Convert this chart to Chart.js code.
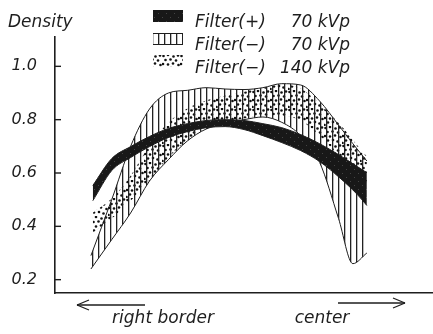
<!DOCTYPE html>
<html>
<head>
<meta charset="utf-8">
<script src="https://cdn.jsdelivr.net/npm/chart.js@4.4.1/dist/chart.umd.min.js"></script>
<style>
  body { margin: 0; background: #fff; }
</style>
</head>
<body>
<canvas id="density" width="433" height="334"></canvas>
<script>
// position across the image (0 = axis, 100 = right edge), density values
var bandPos = [10, 15, 20, 25, 30, 35, 40, 45, 50, 55, 60, 65, 70, 75, 80, 82.5];
var blackHi = [0.553, 0.654, 0.699, 0.737, 0.767, 0.785, 0.797, 0.800, 0.797, 0.785, 0.770, 0.744, 0.710, 0.669, 0.624, 0.601];
var blackLo = [0.496, 0.609, 0.658, 0.699, 0.733, 0.755, 0.770, 0.774, 0.763, 0.740, 0.714, 0.684, 0.643, 0.586, 0.519, 0.478];
var dotHi = [0.451, 0.504, 0.590, 0.703, 0.789, 0.842, 0.872, 0.890, 0.905, 0.920, 0.932, 0.917, 0.860, 0.789, 0.703, 0.662];
var dotLo = [0.376, 0.429, 0.496, 0.571, 0.658, 0.722, 0.767, 0.789, 0.804, 0.815, 0.815, 0.797, 0.740, 0.665, 0.590, 0.560];
var hatchPos = [9.5, 15, 20, 25, 30, 35, 40, 45, 50, 55, 60, 65, 70, 75, 78.8, 82.5];
var hatchHi = [0.29, 0.50, 0.70, 0.84, 0.90, 0.91, 0.92, 0.915, 0.913, 0.92, 0.935, 0.93, 0.87, 0.78, 0.71, 0.645];
var hatchLo = [0.24, 0.35, 0.45, 0.57, 0.65, 0.72, 0.765, 0.785, 0.80, 0.81, 0.79, 0.74, 0.64, 0.43, 0.26, 0.30];
var tickVals = [0.2, 0.4, 0.6, 0.8, 1.0];
var legendRows = [
    ["Filter(+)", "70 kVp"],
    ["Filter(\u2212)", "70 kVp"],
    ["Filter(\u2212)", "140 kVp"]
];

var ink = '#1e1e1e';
var font = '"DejaVu Sans", sans-serif';

function pts(xs, ys)
{
    return xs.map(function (x, i) { return { x: x, y: ys[i] }; });
}

// fill patterns
function tile(w, h, paint)
{
    var c = document.createElement('canvas');
    c.width = w; c.height = h;
    var g = c.getContext('2d');
    paint(g);
    return g.createPattern(c, 'repeat');
}

var blackPat = tile(8, 8, function (g)
{
    g.fillStyle = '#181818';
    g.fillRect(0, 0, 8, 8);
    g.fillStyle = '#444';
    g.fillRect(2, 1, 1, 1);
    g.fillRect(6, 5, 1, 1);
});

var hatchPat = tile(6, 6, function (g)
{
    g.fillStyle = '#222';
    g.fillRect(2, 0, 1.3, 6);
});

// scattered stipple, hand placed in an 18px tile
var dotPat = tile(18, 18, function (g)
{
    g.fillStyle = '#111';
    [[1.5, 2], [6, 1], [11.5, 2.5], [16, 1.5], [3.5, 6], [8.5, 5.5], [14, 6.5],
     [1, 10], [6, 10.5], [11, 9.5], [16.5, 11], [4, 14.5], [9, 14], [13.5, 15.5], [0.5, 17]].forEach(function (p)
    {
        g.beginPath();
        g.arc(p[0], p[1], 1.3, 0, Math.PI * 2);
        g.fill();
    });
});

function line(c, x1, y1, x2, y2)
{
    c.beginPath();
    c.moveTo(x1, y1);
    c.lineTo(x2, y2);
    c.stroke();
}

var decorations =
{
    id: 'decorations',
    afterDraw: function (chart)
    {
        var c = chart.ctx;
        var ys = chart.scales.y;
        c.save();
        c.strokeStyle = ink;
        c.fillStyle = ink;
        c.lineWidth = 1.4;

        // inward ticks
        tickVals.forEach(function (v)
        {
            var py = ys.getPixelForValue(v);
            line(c, ys.right, py, ys.right + 6, py);
        });

        // axis title
        c.font = 'italic 17px ' + font;
        c.textBaseline = 'alphabetic';
        c.textAlign = 'left';
        c.fillText('Density', 8, 27);

        // legend
        var pats = [blackPat, hatchPat, dotPat];
        var boxTops = [10, 33, 55];
        var bases = [27, 50, 73];
        legendRows.forEach(function (row, i)
        {
            c.fillStyle = pats[i];
            c.fillRect(153, boxTops[i], 30, 12);
            if (i === 1)
            {
                c.lineWidth = 1;
                line(c, 153, boxTops[i] + 0.5, 183, boxTops[i] + 0.5);
                line(c, 153, boxTops[i] + 11.5, 183, boxTops[i] + 11.5);
            }
            c.fillStyle = ink;
            c.textAlign = 'left';
            c.fillText(row[0], 195, bases[i]);
            c.textAlign = 'right';
            c.fillText(row[1], 350, bases[i]);
        });

        // direction arrows
        c.lineWidth = 1.3;
        line(c, 77, 305, 145, 305);
        line(c, 77, 305, 89, 300);
        line(c, 77, 305, 89, 310);
        line(c, 338, 303, 405, 303);
        line(c, 405, 303, 393, 298);
        line(c, 405, 303, 393, 308);
        c.textAlign = 'center';
        c.fillText('right border', 163, 323);
        c.fillText('center', 322, 323);
        c.restore();
    }
};

var ctx = document.getElementById('density').getContext('2d');

var chart = new Chart(ctx,
{
    type: 'line',
    data:
    {
        datasets: [
        {
            data: pts(bandPos, blackHi),
            backgroundColor: blackPat,
            borderColor: ink,
            borderWidth: 1,
            fill: '+1'
        },
        {
            data: pts(bandPos, blackLo),
            borderColor: ink,
            borderWidth: 1,
            fill: false
        },
        {
            data: pts(hatchPos, hatchHi),
            backgroundColor: hatchPat,
            borderColor: ink,
            borderWidth: 1,
            fill: '+1'
        },
        {
            data: pts(hatchPos, hatchLo),
            borderColor: ink,
            borderWidth: 1,
            fill: false
        },
        {
            data: pts(bandPos, dotHi),
            backgroundColor: dotPat,
            borderWidth: 0,
            fill: '+1'
        },
        {
            data: pts(bandPos, dotLo),
            borderWidth: 0,
            fill: false
        }]
    },
    options:
    {
        responsive: false,
        animation: false,
        events: [],
        layout: { padding: { top: 37, right: 0, left: 0, bottom: 0 } },
        elements:
        {
            point: { radius: 0 },
            line: { cubicInterpolationMode: 'monotone' }
        },
        plugins:
        {
            legend: { display: false },
            tooltip: { enabled: false }
        },
        scales:
        {
            x:
            {
                type: 'linear',
                min: 0,
                max: 100,
                grid: { display: false },
                border: { color: ink, width: 1.6 },
                ticks: { display: false },
                afterFit: function (s) { s.height = 41; }
            },
            y:
            {
                min: 0.15,
                max: 1.11,
                grid: { display: false, drawTicks: false },
                border: { color: ink, width: 1.6 },
                afterBuildTicks: function (s) { s.ticks = tickVals.map(function (v) { return { value: v }; }); },
                ticks:
                {
                    color: ink,
                    padding: 18,
                    font: { family: font, size: 16, style: 'italic' },
                    callback: function (v) { return v.toFixed(1); }
                },
                afterFit: function (s) { s.width = 55; }
            }
        }
    },
    plugins: [decorations]
});
</script>
</body>
</html>
